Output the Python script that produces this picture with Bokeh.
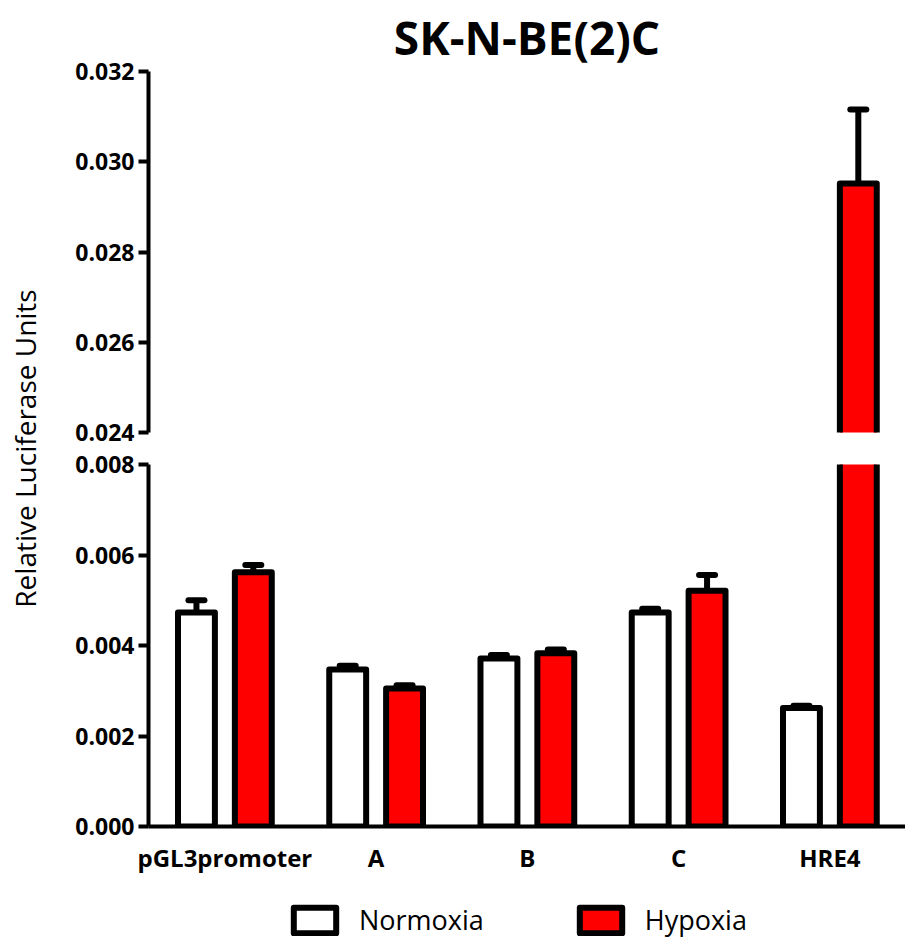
from math import pi

from bokeh.embed import file_html
from bokeh.layouts import column, row
from bokeh.models import (ColumnDataSource, FixedTicker, Label, Legend,
                          LegendItem, Range1d, TeeHead, Whisker)
from bokeh.plotting import figure
from bokeh.resources import INLINE

# Relative luciferase activity per reporter construct (mean and SEM)
constructs = ["pGL3promoter", "A", "B", "C", "HRE4"]
normoxia = [0.00473, 0.00347, 0.00371, 0.00473, 0.00262]
normoxia_sem = [0.00027, 0.00008, 0.00008, 0.00008, 0.00005]
hypoxia = [0.00562, 0.00305, 0.00383, 0.00521, 0.02952]
hypoxia_sem = [0.00016, 0.00007, 0.00008, 0.00035, 0.00164]

lower_ticks = [0.000, 0.002, 0.004, 0.006, 0.008]
upper_ticks = [0.024, 0.026, 0.028, 0.030, 0.032]

FONT = "Open Sans"
OFFSET = 0.188      # dodge of each condition from the group centre
BAR_W = 0.244
COLORS = {"Normoxia": "white", "Hypoxia": "red"}

idx = list(range(len(constructs)))


def make_source(values, sems, shift):
    xs = [i + shift for i in idx]
    return ColumnDataSource(dict(
        x=xs,
        val=values,
        upper=[v + e for v, e in zip(values, sems)],
        # bars as closed outlines so clipping at a broken axis stays clean
        px=[[x - BAR_W / 2, x - BAR_W / 2, x + BAR_W / 2, x + BAR_W / 2]
            for x in xs],
        py=[[0, v, v, 0] for v in values],
    ))


sources = {"Normoxia": make_source(normoxia, normoxia_sem, -OFFSET),
           "Hypoxia": make_source(hypoxia, hypoxia_sem, OFFSET)}

x_range = Range1d(-0.505, 4.5)


def style_y(p, ticks):
    ax = p.yaxis[0]
    ax.ticker = FixedTicker(ticks=ticks)
    ax.major_label_overrides = {t: f"{t:.3f}" for t in ticks}
    ax.axis_line_width = 4
    ax.major_tick_line_width = 4
    ax.major_tick_out = 10
    ax.major_tick_in = 0
    ax.minor_tick_line_color = None
    ax.major_label_text_font = FONT
    ax.major_label_text_font_style = "bold"
    ax.major_label_text_font_size = "23px"
    ax.major_label_text_color = "black"
    ax.major_label_standoff = 4


def draw_bars(p, name):
    return p.patches(xs="px", ys="py", source=sources[name],
                     fill_color=COLORS[name], line_color="black",
                     line_width=6, line_join="round")


def draw_series(p):
    for name, src in sources.items():
        draw_bars(p, name)
        p.add_layout(Whisker(
            base="x", lower="val", upper="upper", source=src,
            dimension="height", line_width=6, line_color="black",
            lower_head=None,
            upper_head=TeeHead(size=16, line_width=6, line_color="black",
                               line_cap="round")))


def base_figure(y_range, frame_height, **kw):
    p = figure(frame_width=757, frame_height=frame_height, x_range=x_range,
               y_range=y_range, output_backend="svg", toolbar_location=None,
               min_border_left=98, min_border_right=0, **kw)
    p.outline_line_color = None
    p.grid.visible = False
    return p


# Upper segment of the broken axis
p_top = base_figure(Range1d(0.024, 0.032), 361, x_axis_location=None,
                    min_border_top=70, min_border_bottom=16,
                    title="SK-N-BE(2)C")
p_top.title.align = "center"
p_top.title.text_font = FONT
p_top.title.text_font_style = "bold"
p_top.title.text_font_size = "46px"
p_top.title.text_color = "black"
p_top.title.standoff = 7
style_y(p_top, upper_ticks)
draw_series(p_top)

# Lower segment of the broken axis
p_bot = base_figure(Range1d(0.0, 0.008), 362,
                    min_border_top=16, min_border_bottom=58)
style_y(p_bot, lower_ticks)
xa = p_bot.xaxis[0]
xa.ticker = FixedTicker(ticks=idx)
xa.major_label_overrides = {i: name for i, name in zip(idx, constructs)}
xa.axis_line_width = 4
xa.major_tick_line_color = None
xa.minor_tick_line_color = None
xa.major_label_text_font = FONT
xa.major_label_text_font_style = "bold"
xa.major_label_text_font_size = "24px"
xa.major_label_text_color = "black"
xa.major_label_standoff = 8
draw_series(p_bot)

# Legend strip under the chart (its bars sit outside the visible range)
p_leg = figure(frame_width=757, frame_height=48, x_range=x_range,
               y_range=Range1d(1, 2), output_backend="svg",
               toolbar_location=None, x_axis_location=None,
               y_axis_location=None, min_border_left=98, min_border_right=0,
               min_border_top=12, min_border_bottom=0)
p_leg.outline_line_color = None
p_leg.grid.visible = False
items = [LegendItem(label=name, renderers=[draw_bars(p_leg, name)])
         for name in sources]
p_leg.add_layout(Legend(items=items, orientation="horizontal",
                        location=(140, 6), glyph_width=53, glyph_height=32,
                        label_standoff=18, spacing=90, padding=0, margin=0,
                        border_line_color=None, background_fill_alpha=0,
                        label_text_font=FONT, label_text_font_size="27px",
                        label_text_color="black"))

# Shared y-axis title spanning both segments
lab = figure(width=50, height=943, x_range=Range1d(0, 1),
             y_range=Range1d(0, 1), output_backend="svg",
             toolbar_location=None, x_axis_location=None,
             y_axis_location=None, min_border=0)
lab.outline_line_color = None
lab.grid.visible = False
lab.add_layout(Label(x=24, y=943 - 448, x_units="screen", y_units="screen",
                     text="Relative Luciferase Units", angle=pi / 2,
                     text_align="center", text_baseline="middle",
                     text_font=FONT, text_font_size="28px",
                     text_color="black"))

layout = row(lab, column(p_top, p_bot, p_leg))
open("out.html", "w").write(file_html(layout, INLINE))
